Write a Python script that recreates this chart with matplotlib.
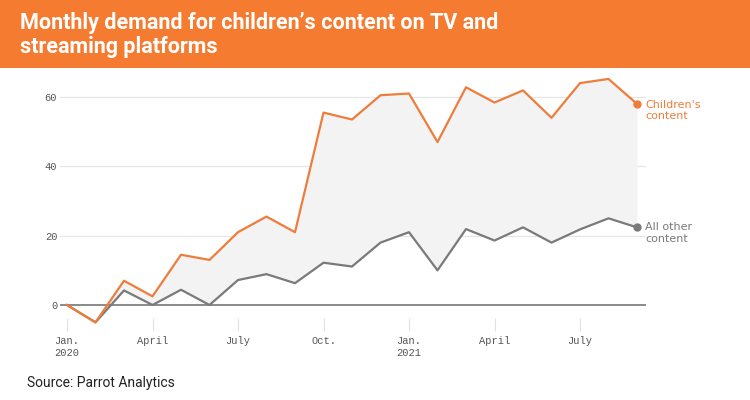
import matplotlib
matplotlib.use("Agg")
import matplotlib.pyplot as plt
from matplotlib.patches import Rectangle

months = list(range(21))  # Jan 2020 .. Sep 2021
children = [0, -5, 7, 2.5, 14.5, 13, 21, 25.5, 21, 55.5, 53.5, 60.5, 61, 47, 62.8, 58.4, 61.9, 54, 64, 65.2, 58]
other = [0, -5, 4.2, 0, 4.4, 0, 7.2, 8.9, 6.3, 12.2, 11.1, 18, 21, 10, 21.9, 18.6, 22.4, 18, 21.8, 25, 22.4]
xtick_pos = [0, 3, 6, 9, 12, 15, 18]
xtick_labels = ["Jan.\n2020", "April", "July", "Oct.", "Jan.\n2021", "April", "July"]
ytick_vals = [0, 20, 40, 60]

ORANGE = "#EE7D3B"
GRAY = "#7a7a7a"
W, H = 750, 400
fig = plt.figure(figsize=(7.5, 4), dpi=100)

# header band
fig.patches.append(Rectangle((0, 1 - 68 / H), 1, 68 / H, transform=fig.transFigure,
                             facecolor="#F47B2F", edgecolor="none", zorder=0))
fig.text(20 / W, 1 - 29 / H, "Monthly demand for children\u2019s content on TV and",
         color="white", fontsize=15.5, fontweight="bold", family="Roboto",
         va="baseline", ha="left")
fig.text(20 / W, 1 - 53 / H, "streaming platforms",
         color="white", fontsize=15.5, fontweight="bold", family="Roboto",
         va="baseline", ha="left")
fig.text(27 / W, 1 - 383 / H, "Source: Parrot Analytics", fontsize=10, family="Roboto",
         color="#222222", va="center", ha="left")

# axes: px 60..646 horizontally, 70..318 vertically
px_per_unit = 3.467
x0, dx = 67, 28.5
left_px, right_px, top_px, bot_px = 60, 646, 70, 318
ax = fig.add_axes([left_px / W, 1 - bot_px / H, (right_px - left_px) / W, (bot_px - top_px) / H])
ax.set_xlim((left_px - x0) / dx, (right_px - x0) / dx)
ax.set_ylim(-(bot_px - 305) / px_per_unit, (305 - top_px) / px_per_unit)

for v in ytick_vals[1:]:
    ax.axhline(v, color="#e6e6e6", lw=0.9, zorder=1)
ax.axhline(0, color="#8a8a8a", lw=1.4, zorder=2)

ax.fill_between(months, children, other, color="#f3f3f3", lw=0, zorder=1.5)
ax.plot(months, other, color=GRAY, lw=1.6, zorder=3, clip_on=False)
ax.plot(months, children, color=ORANGE, lw=1.6, zorder=4, clip_on=False)
ax.plot(months[-1], children[-1], "o", color=ORANGE, ms=5, zorder=5, clip_on=False)
ax.plot(months[-1], other[-1], "o", color=GRAY, ms=5, zorder=5, clip_on=False)

ax.annotate("Children's\ncontent", (months[-1], children[-1]), xytext=(6, 3),
            textcoords="offset points", color=ORANGE, fontsize=8,
            va="top", ha="left", linespacing=1.15, family="DejaVu Sans")
ax.annotate("All other\ncontent", (months[-1], other[-1]), xytext=(6, 3.5),
            textcoords="offset points", color=GRAY, fontsize=8,
            va="top", ha="left", linespacing=1.15, family="DejaVu Sans")

for s in ax.spines.values():
    s.set_visible(False)
ax.set_yticks(ytick_vals)
ax.set_yticklabels([str(v) for v in ytick_vals], family="Liberation Mono", fontsize=7.5, color="#555555")
ax.tick_params(axis="y", length=0, pad=2)
ax.set_xticks(xtick_pos)
ax.set_xticklabels(xtick_labels, family="Liberation Mono", fontsize=7.5, color="#555555",
                   linespacing=1.3)
ax.tick_params(axis="x", length=9, width=0.8, color="#e2e2e2", pad=4, direction="out")
ax.set_facecolor("none")

fig.savefig("out.png", dpi=100)
